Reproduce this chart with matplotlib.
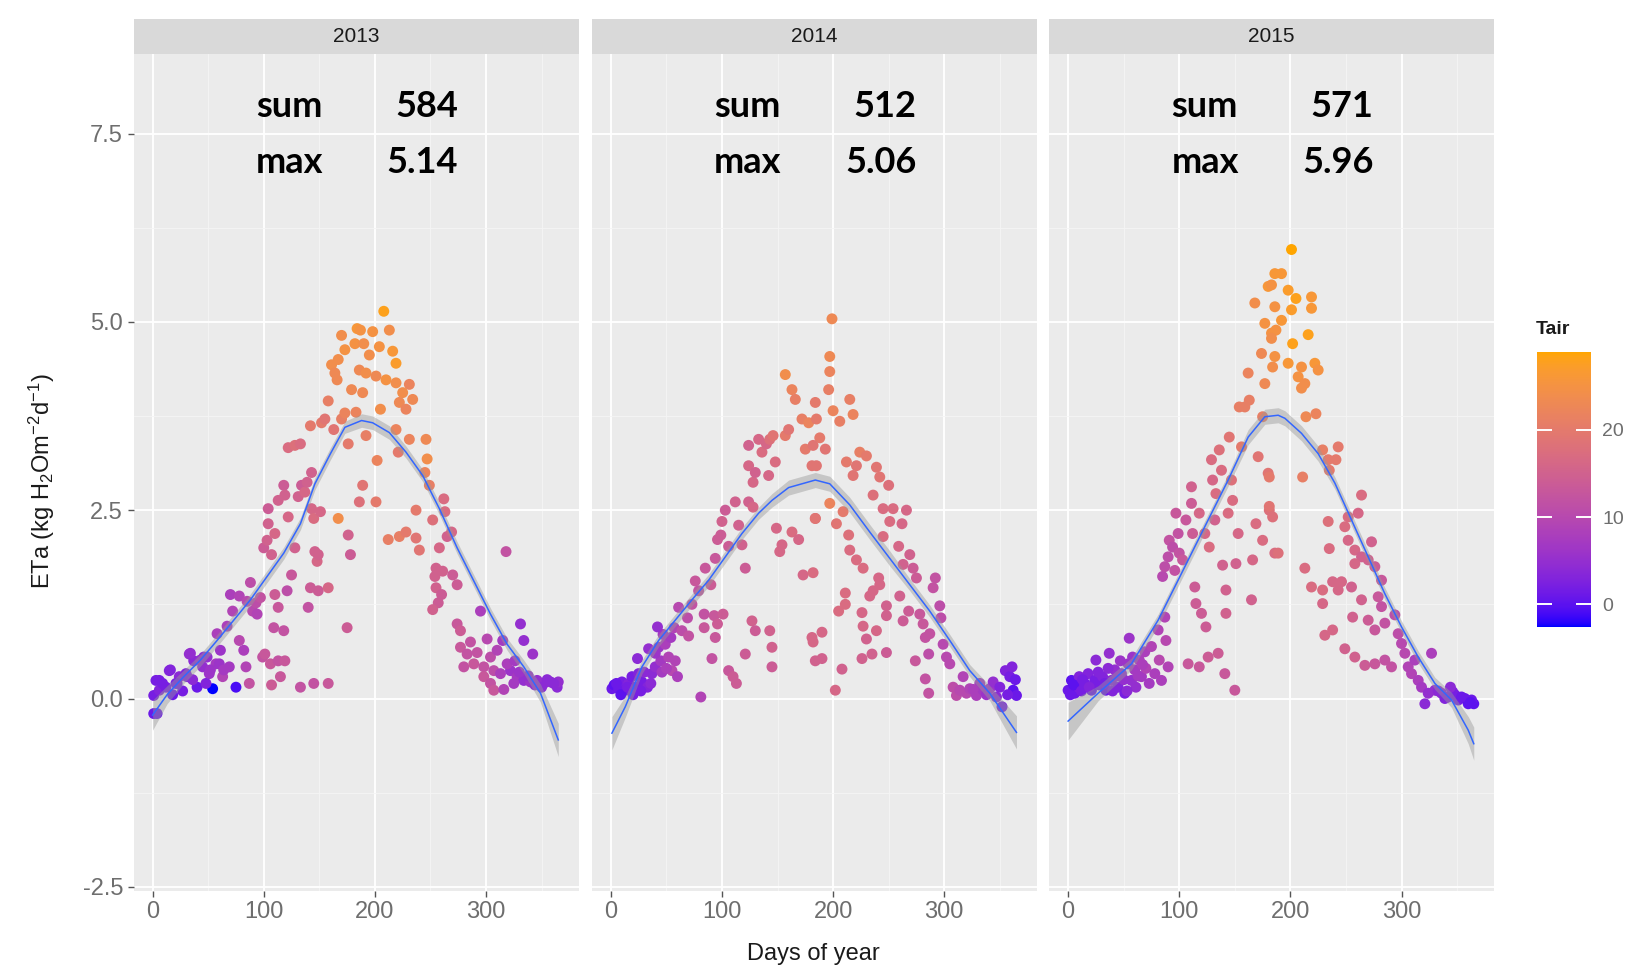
import numpy as np
import matplotlib
matplotlib.use('Agg')
import matplotlib.pyplot as plt
from matplotlib.colors import ListedColormap, Normalize
from matplotlib.cm import ScalarMappable
from matplotlib.ticker import FormatStrFormatter

plt.rcParams['font.family'] = ['Liberation Sans', 'DejaVu Sans']
plt.rcParams['mathtext.default'] = 'regular'

years = ['2013', '2014', '2015']
sums = ['584', '512', '571']
maxs = ['5.14', '5.06', '5.96']

# ---------------- 2013 ----------------
doy_2013 = [1,1,3,6,12,15,21,24,30,33,37,40,45,46,51,54,57,58,61,63,67,69,72,70,75,78,78,82,84,85,
            87,88,90,93,94,97,99,101,106,107,110,109,113,115,113,118,119,121,100,103,104,104,107,110,113,118,119,122,125,128,
            131,134,137,139,140,142,143,143,145,145,146,148,149,151,149,158,158,133,122,128,133,142,152,155,158,163,167,170,173,176,
            178,175,176,161,164,167,166,170,173,179,182,184,
            208,187,198,213,190,204,216,195,219,186,192,201,210,219,231,189,225,234,222,205,228,183,219,192,231,246,221,247,202,245,
            249,189,186,201,262,237,263,252,212,222,228,237,240,265,258,269,318,255,261,270,274,254,255,260,257,252,295,274,277,331,
            334,286,301,342,277,283,292,304,310,315,280,289,298,307,298,304,307,313,322,328,334,340,346,352,358,364,365,325,319,
            4,6,16,22,31,34,43,49,52,60,64,27,18,9,48,36,355,350,338,344,361,330,316,326]
eta_2013 = [-0.2,0.04,0.24,0.11,0.15,0.37,0.2,0.29,0.33,0.59,0.5,0.15,0.42,0.55,0.33,0.13,0.46,0.86,0.64,0.29,
            0.96,0.42,1.16,1.38,0.15,0.77,1.36,0.64,0.42,1.29,0.2,1.54,1.16,1.27,1.12,1.34,0.55,0.59,0.46,0.18,
            1.38,0.94,0.5,0.29,1.21,0.9,0.5,1.43,2.0,2.1,2.32,2.52,1.91,2.19,2.63,2.83,2.7,2.41,1.64,2.0,
            2.68,2.83,2.74,2.87,1.21,1.47,2.52,3.0,2.39,0.2,1.95,1.82,1.43,2.48,1.91,1.47,0.2,0.15,3.33,3.36,
            3.38,3.62,3.66,3.71,3.95,3.57,2.39,3.71,3.79,2.17,1.91,0.94,3.38,4.43,4.32,4.5,4.23,4.82,4.63,4.1,4.71,4.91,
            5.14,4.89,4.87,4.89,4.71,4.67,4.61,4.56,4.45,4.36,4.32,4.28,4.23,4.19,4.17,4.06,4.06,3.97,3.93,3.84,
            3.84,3.8,3.57,3.49,3.44,3.44,3.27,3.18,3.16,3.0,2.83,2.83,2.61,2.61,2.65,2.5,2.48,2.37,2.11,2.15,
            2.21,2.13,1.97,2.15,2.0,2.21,1.95,1.73,1.69,1.64,1.51,1.62,1.47,1.38,1.27,1.18,1.16,0.99,0.9,0.99,
            0.77,0.75,0.79,0.59,0.68,0.59,0.61,0.55,0.64,0.77,0.42,0.46,0.42,0.37,0.29,0.2,0.11,0.33,0.37,0.29,
            0.24,0.22,0.24,0.2,0.22,0.15,0.22,0.2,0.46,
            -0.2,0.24,0.38,0.2,0.29,0.6,0.51,0.55,0.38,0.46,0.38,0.1,0.05,0.2,0.2,0.25,0.25,0.15,0.3,0.18,0.2,0.35,0.12,0.5]
tair_2013 = [1,2,2,3,2,3,2,4,3,5,4,1,5,4,6,-2.6,7,8,6,9,8,7,9,8,-1,10,9,8,9,10,12,11,10,11,9,12,12,13,13,14,
             14,12,12,13,13,12,13,11,14,15,15,14,15,16,15,14,15,16,13,15,15,14,16,15,12,14,16,15,17,12,
             15,16,14,16,15,16,13,12,17,18,17,20,20,19,21,19,24,21,22,15,14,14,20,24,23,24,23,24,25,23,25,26,
             28,25,25,24,24,25,26,24,27,23,24,23,25,24,22,23,24,23,23,24,22,22,22,21,22,23,20,24,22,22,
             21,19,18,20,17,20,17,18,21,21,20,19,19,15,16,16,12,15,15,14,14,15,15,14,14,15,8,13,14,5,
             5,12,10,6,13,12,12,11,9,7,12,13,12,11,13,12,13,8,6,7,5,6,5,5,4,4,5,7,8,
             1,2,3,2,3,5,5,5,6,6,7,2,1,2,3,4,4,4,5,5,4,6,9,7]

# ---------------- 2014 ----------------
doy_2014 = [1,3,7,10,13,16,19,22,25,28,24,33,34,37,40,43,45,49,52,55,58,60,54,57,61,64,69,70,81,73,
            76,79,84,84,85,90,93,96,101,91,94,94,96,99,100,103,106,112,115,118,121,124,128,106,110,113,121,127,130,143,
            145,145,128,124,130,133,124,136,140,143,146,149,154,163,169,173,142,148,152,157,160,157,163,166,172,178,175,181,184,181,184,
            199,197,197,196,184,215,218,200,206,185,188,182,193,185,224,230,212,221,239,218,242,250,236,197,245,254,266,251,262,184,
            203,209,214,245,215,259,269,221,227,263,272,182,241,275,292,236,290,242,233,260,211,248,296,268,205,211,297,226,278,190,
            227,239,248,263,281,182,230,283,287,190,226,235,248,286,208,202,274,283,286,299,302,305,308,311,314,317,320,323,329,335,
            341,344,347,352,355,359,362,365,361,
            5,9,15,20,27,30,36,40,46,50,47,42,350,357,364,338,332,326]
eta_2014 = [0.13,0.18,0.13,0.22,0.11,0.2,0.29,0.15,0.33,0.22,0.53,0.15,0.66,0.33,0.42,0.68,0.5,0.72,0.55,0.37,
            0.5,0.29,0.81,0.94,1.21,0.9,1.07,0.83,0.02,1.25,1.56,1.43,1.12,0.94,1.73,1.51,1.1,0.99,1.12,0.53,
            0.81,1.86,2.11,2.17,2.35,2.5,2.02,2.61,2.3,2.04,1.73,2.61,2.54,0.37,0.29,0.2,0.59,1.03,0.9,0.9,
            0.68,0.42,2.87,3.09,3.0,3.44,3.36,3.27,3.38,3.44,3.49,2.26,2.04,2.21,2.11,1.64,2.96,3.14,1.95,3.49,
            3.57,4.3,4.1,3.97,3.71,3.66,3.31,3.09,2.39,0.81,0.5,
            5.04,4.54,4.34,4.1,3.93,3.97,3.77,3.82,3.68,3.71,3.46,3.36,3.31,3.09,3.27,3.22,3.14,3.09,3.07,2.96,
            2.94,2.83,2.7,2.59,2.52,2.52,2.5,2.35,2.32,2.39,2.32,2.48,2.17,2.15,1.97,2.02,1.91,1.84,1.73,1.78,
            1.73,1.67,1.6,1.6,1.6,1.43,1.47,1.51,1.36,1.36,1.4,1.23,1.23,1.16,1.16,1.25,1.07,1.14,1.12,0.88,
            0.96,0.9,1.1,1.03,0.99,0.75,0.79,0.81,0.86,0.53,0.53,0.59,0.61,0.59,0.39,0.11,0.5,0.26,0.07,0.72,
            0.55,0.46,0.15,0.04,0.11,0.29,0.07,0.13,0.04,0.11,0.13,0.22,0.02,-0.11,0.37,0.29,0.11,0.04,0.42,
            0.2,0.05,0.15,0.05,0.1,0.35,0.2,0.6,0.35,0.4,0.85,0.95,0.15,0.05,0.25,0.05,0.2,0.12]
tair_2014 = [1,0,1,2,1,3,2,1,3,2,4,3,5,4,5,6,7,8,9,10,9,8,7,9,10,11,11,12,9,12,
             13,12,12,13,13,14,13,14,14,12,13,13,14,14,15,14,14,15,15,15,14,15,16,13,14,14,14,15,14,15,
             15,14,16,16,15,16,15,17,16,18,19,16,16,17,16,16,16,17,16,20,19,24,22,21,21,22,20,19,18,16,15,
             23,23,22,21,20,21,22,22,21,20,20,19,19,19,21,20,20,19,19,19,19,18,18,22,17,17,16,17,16,19,
             19,20,18,17,17,16,15,17,17,15,14,17,16,14,12,16,12,16,16,15,17,15,11,14,17,17,11,16,13,16,
             16,16,15,14,13,16,15,12,12,15,15,15,14,11,15,16,13,12,12,10,10,10,11,11,10,9,10,9,8,7,
             6,5,4,2,3,2,0,1,3,
             1,0,2,2,2,4,4,6,7,8,7,5,3,2,1,6,7,8]

# ---------------- 2015 ----------------
doy_2015 = [0,3,6,9,10,15,18,21,24,25,28,31,34,37,39,42,45,48,51,54,55,57,60,61,64,66,69,70,73,75,
            78,81,82,84,87,88,90,85,87,90,91,94,96,97,99,100,103,106,108,111,111,112,114,115,118,118,120,123,124,126,
            127,129,130,132,133,135,136,138,139,141,142,142,144,145,147,148,150,151,153,154,156,159,162,163,165,166,168,169,171,174,
            175,175,177,177,180,180,181,183,184,186,186,
            201,192,183,198,205,219,186,219,201,192,187,183,202,216,186,198,210,222,225,207,213,210,214,223,229,243,234,241,235,211,
            181,264,181,184,261,252,234,249,273,252,235,258,264,189,270,258,213,276,219,229,238,246,243,255,282,279,264,229,282,294,
            256,270,231,238,276,285,297,249,258,267,276,285,291,300,303,306,309,312,315,318,321,324,327,330,336,342,346,351,357,360,
            365,363,
            2,5,12,13,19,27,33,36,40,44,47,50,53,58,63,67,333,339,348,354,362,344]
eta_2015 = [0.11,0.24,0.07,0.15,0.29,0.2,0.33,0.11,0.24,0.51,0.18,0.29,0.11,0.6,0.24,0.38,0.15,0.33,0.07,0.46,
            0.8,0.24,0.38,0.15,0.51,0.29,0.62,0.4,0.2,0.69,0.33,0.91,0.51,0.24,1.08,0.77,0.42,1.62,1.75,1.88,
            2.1,2.01,1.7,2.46,2.19,1.93,1.84,2.37,0.46,2.81,2.59,2.19,1.48,1.26,2.46,0.42,1.13,2.19,0.95,0.55,
            2.01,3.17,2.9,2.37,2.72,0.6,3.3,3.03,1.77,0.33,1.44,1.13,2.46,3.47,2.9,2.63,0.11,1.79,2.19,3.87,
            3.34,3.87,4.32,3.96,1.31,1.84,5.25,2.32,3.21,4.58,3.74,2.1,4.98,4.18,5.47,2.99,2.5,4.85,4.4,1.93,5.64,
            5.96,5.64,5.49,5.42,5.31,5.33,5.2,5.18,5.16,5.02,4.89,4.78,4.71,4.83,4.54,4.45,4.4,4.45,4.36,4.27,
            4.18,4.12,3.74,3.78,3.3,3.34,3.17,3.17,3.03,2.94,2.94,2.7,2.55,2.41,2.46,2.41,2.35,2.28,2.08,2.1,
            1.99,1.97,1.88,1.93,1.84,1.79,1.73,1.75,1.48,1.44,1.55,1.55,1.44,1.48,1.57,1.35,1.31,1.26,1.22,1.11,
            1.08,1.04,0.84,0.91,0.91,1.0,0.86,0.66,0.55,0.44,0.46,0.51,0.42,0.73,0.6,0.42,0.33,0.51,0.24,0.15,
            -0.07,0.07,0.6,0.11,0.07,0.02,0.09,-0.02,0.0,-0.07,-0.07,-0.02,
            0.05,0.18,0.1,0.25,0.15,0.35,0.2,0.4,0.1,0.3,0.5,0.25,0.1,0.55,0.3,0.45,0.1,0.0,0.05,0.02,-0.05,0.15]
tair_2015 = [1,0,1,2,3,2,3,1,2,4,2,3,1,5,4,5,3,5,2,6,6,5,7,5,8,7,8,9,7,9,
             8,9,10,8,9,10,9,10,11,11,12,11,12,13,12,12,13,13,13,15,14,14,14,14,16,13,14,16,14,14,
             17,17,16,15,17,14,18,17,15,13,15,15,17,19,18,17,13,15,16,21,20,21,22,21,15,16,24,17,19,23,
             21,17,25,23,26,19,18,25,24,17,26,
             28.9,26,25,27,28,26,25,26,27,26,25,24,28,28,25,26,25,26,25,25,24,24,23,22,21,20,20,20,20,21,
             20,17,19,18,16,17,18,17,15,16,17,16,15,18,15,16,17,14,17,17,16,16,16,15,13,13,15,16,12,11,
             15,14,16,16,13,12,11,15,15,14,13,12,12,10,10,9,9,8,8,7,4,5,8,5,4,3,3,2,1,0,
             0,1,
             1,0,2,2,3,3,2,4,3,5,6,5,4,6,7,8,4,3,2,1,0,4]

# ---------------- smoothers ----------------
sm_doy_2013 = [0,13,28,43,58,73,88,103,118,133,146,160,173,188,198,213,228,243,258,274,289,304,319,334,349,365]
sm_eta_2013 = [-0.22,0.05,0.29,0.51,0.77,1.04,1.31,1.62,1.93,2.32,2.85,3.25,3.6,3.69,3.66,3.53,3.27,2.96,2.52,2.0,
               1.56,1.12,0.72,0.42,0.07,-0.55]
sm_se_2013 = [0.2,0.12,0.09,0.08,0.08,0.08,0.08,0.08,0.08,0.08,0.08,0.08,0.08,0.09,0.09,0.09,0.08,0.08,0.08,0.08,
              0.08,0.08,0.08,0.09,0.12,0.22]

sm_doy_2014 = [1,13,28,43,58,73,88,103,118,133,145,160,184,197,215,233,251,269,287,305,323,341,365]
sm_eta_2014 = [-0.46,-0.11,0.42,0.77,1.04,1.31,1.57,1.88,2.19,2.46,2.63,2.8,2.9,2.85,2.57,2.21,1.86,1.51,1.16,0.77,
               0.37,0.07,-0.45]
sm_se_2014 = [0.22,0.14,0.09,0.08,0.08,0.08,0.08,0.08,0.08,0.08,0.09,0.1,0.1,0.1,0.1,0.1,0.1,0.08,0.08,0.08,
              0.08,0.1,0.22]

sm_doy_2015 = [0,27,57,81,102,126,144,162,177,189,195,210,225,240,255,270,285,300,315,330,345,360,365]
sm_eta_2015 = [-0.3,0.07,0.46,1.04,1.66,2.37,2.9,3.47,3.74,3.76,3.72,3.52,3.25,2.86,2.37,1.88,1.39,0.95,0.55,0.2,
               -0.02,-0.42,-0.6]
sm_se_2015 = [0.25,0.1,0.08,0.08,0.08,0.08,0.08,0.1,0.1,0.1,0.1,0.1,0.1,0.08,0.08,0.08,0.08,0.08,0.08,0.08,
              0.1,0.18,0.22]

points = [(doy_2013, eta_2013, tair_2013), (doy_2014, eta_2014, tair_2014), (doy_2015, eta_2015, tair_2015)]
smooths = [(sm_doy_2013, sm_eta_2013, sm_se_2013), (sm_doy_2014, sm_eta_2014, sm_se_2014),
           (sm_doy_2015, sm_eta_2015, sm_se_2015)]

# ---------------- colour scale: blue -> orange in Lab (ggplot style) ----------------
def srgb_to_lab(rgb):
    rgb = np.asarray(rgb, float)
    lin = np.where(rgb <= 0.04045, rgb / 12.92, ((rgb + 0.055) / 1.055) ** 2.4)
    M = np.array([[0.4124564, 0.3575761, 0.1804375],
                  [0.2126729, 0.7151522, 0.0721750],
                  [0.0193339, 0.1191920, 0.9503041]])
    xyz = M @ lin / np.array([0.95047, 1.0, 1.08883])
    f = np.where(xyz > 0.008856, np.cbrt(xyz), (903.3 * xyz + 16) / 116)
    return np.array([116 * f[1] - 16, 500 * (f[0] - f[1]), 200 * (f[1] - f[2])])

def lab_to_srgb(lab):
    L, a, b = lab
    fy = (L + 16) / 116
    fx = fy + a / 500
    fz = fy - b / 200
    def inv(t):
        return t ** 3 if t ** 3 > 0.008856 else (116 * t - 16) / 903.3
    xyz = np.array([inv(fx) * 0.95047, inv(fy), inv(fz) * 1.08883])
    M = np.array([[3.2404542, -1.5371385, -0.4985314],
                  [-0.9692660, 1.8760108, 0.0415560],
                  [0.0556434, -0.2040259, 1.0572252]])
    lin = np.clip(M @ xyz, 0, 1)
    return np.where(lin <= 0.0031308, 12.92 * lin, 1.055 * lin ** (1 / 2.4) - 0.055)

lab_lo = srgb_to_lab([0.0, 0.0, 1.0])
lab_hi = srgb_to_lab([1.0, 0.647, 0.0])
cmap = ListedColormap([lab_to_srgb(lab_lo + t * (lab_hi - lab_lo)) for t in np.linspace(0, 1, 256)])
all_t = tair_2013 + tair_2014 + tair_2015
norm = Normalize(vmin=min(all_t), vmax=max(all_t))

# ---------------- figure ----------------
W, H = 1639, 972
fig = plt.figure(figsize=(W / 100, H / 100), dpi=100)
fig.patch.set_facecolor('white')

lefts = [133.5, 591.7, 1049.0]
pw = 445.0
bottom_px, top_px = 890.6, 54.4
strip_top = 18.8

tick_col = '#6E6E6E'
for i, yr in enumerate(years):
    ax = fig.add_axes([lefts[i] / W, 1 - bottom_px / H, pw / W, (bottom_px - top_px) / H])
    ax.set_facecolor('#EBEBEB')
    ax.set_xlim(-17.2, 383.2)
    ax.set_ylim(-2.55, 8.55)
    ax.set_xticks([0, 100, 200, 300])
    ax.set_xticks([50, 150, 250, 350], minor=True)
    ax.set_yticks([-2.5, 0, 2.5, 5.0, 7.5])
    ax.set_yticks([-1.25, 1.25, 3.75, 6.25], minor=True)
    ax.yaxis.set_major_formatter(FormatStrFormatter('%.1f'))
    ax.grid(which='major', color='white', lw=1.3, zorder=0)
    ax.grid(which='minor', color='#F5F5F5', lw=0.6, zorder=0)
    ax.set_axisbelow(True)
    for s in ax.spines.values():
        s.set_visible(False)
    ax.tick_params(which='major', length=4, width=1, color='#555555', labelcolor=tick_col, labelsize=17)
    ax.tick_params(which='minor', length=0)
    if i > 0:
        ax.tick_params(axis='y', which='major', length=0, labelleft=False)

    d, e, t = points[i]
    ax.scatter(d, e, c=t, cmap=cmap, norm=norm, s=62, edgecolors='none', zorder=3)
    sd, se_, ss = smooths[i]
    sd = np.asarray(sd); se_ = np.asarray(se_); ss = np.asarray(ss)
    ax.fill_between(sd, se_ - ss, se_ + ss, color='#999999', alpha=0.45, lw=0, zorder=4)
    ax.plot(sd, se_, color='#3366FF', lw=1.1, zorder=5)

    ax.text(93, 7.86, 'sum', ha='left', va='center', fontsize=26, fontweight='bold', family='Lato', zorder=6)
    ax.text(275, 7.86, sums[i], ha='right', va='center', fontsize=26, fontweight='bold', family='Lato', zorder=6)
    ax.text(93, 7.12, 'max', ha='left', va='center', fontsize=26, fontweight='bold', family='Lato', zorder=6)
    ax.text(275, 7.12, maxs[i], ha='right', va='center', fontsize=26, fontweight='bold', family='Lato', zorder=6)

    sax = fig.add_axes([lefts[i] / W, 1 - top_px / H, pw / W, (top_px - strip_top) / H])
    sax.set_facecolor('#D9D9D9')
    sax.set_xticks([]); sax.set_yticks([])
    for s in sax.spines.values():
        s.set_visible(False)
    sax.text(0.5, 0.5, yr, ha='center', va='center', fontsize=15, color='#1A1A1A', transform=sax.transAxes)

fig.text(0.0255, 0.505, r'ETa (kg H$_2$Om$^{-2}$d$^{-1}$)', rotation=90, ha='center', va='center',
         fontsize=17, color='#1A1A1A')
fig.text(0.496, 0.0185, 'Days of year', ha='center', va='center', fontsize=17, color='#1A1A1A')

# colour bar legend
cax = fig.add_axes([1536.6 / W, 1 - 627 / H, 54.4 / W, 275 / H])
cb = fig.colorbar(ScalarMappable(norm=norm, cmap=cmap), cax=cax, ticks=[0, 10, 20])
cb.outline.set_visible(False)
cax.tick_params(direction='in', color='white', length=11, width=1.4, left=True, right=True,
                labelsize=14, labelcolor=tick_col, pad=8)
fig.text(1536 / W, 1 - 329 / H, 'Tair', ha='left', va='center', fontsize=14, fontweight='bold', color='#1A1A1A')

fig.savefig('out.png', dpi=100)
